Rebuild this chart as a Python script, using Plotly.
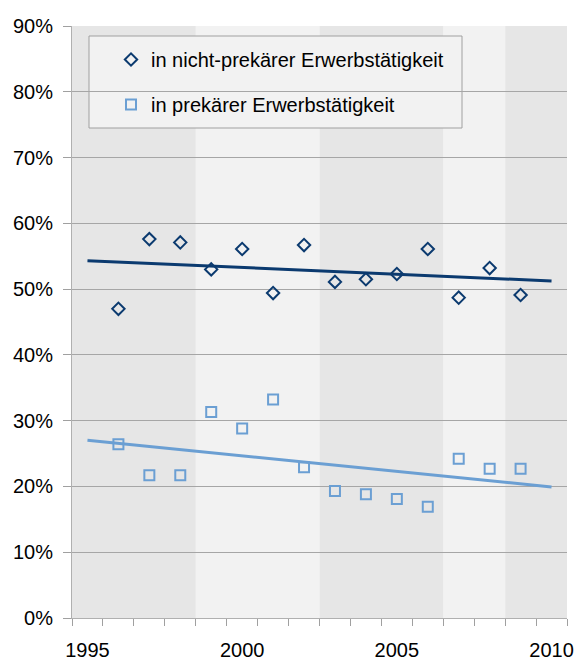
import numpy as np
import plotly.graph_objects as go

years = [1996, 1997, 1998, 1999, 2000, 2001, 2002, 2003, 2004, 2005, 2006, 2007, 2008, 2009]
nicht_prekaer = [47.0, 57.6, 57.1, 53.0, 56.1, 49.4, 56.7, 51.1, 51.5, 52.3, 56.1, 48.7, 53.2, 49.1]
prekaer = [26.4, 21.7, 21.7, 31.3, 28.8, 33.2, 22.9, 19.3, 18.8, 18.1, 16.9, 24.2, 22.7, 22.7]
trend_years = [1995, 2010]
x_ticks = [1995, 2000, 2005, 2010]
y_ticks = [0, 10, 20, 30, 40, 50, 60, 70, 80, 90]
y_ticklabels = [f"{v}%" for v in y_ticks]
dark_periods = [(1995, 1998), (2003, 2006), (2009, 2010)]
light_periods = [(1999, 2002), (2007, 2008)]
names = ["in nicht-prekärer Erwerbstätigkeit", "in prekärer Erwerbstätigkeit"]

DARK = "#0b3a6f"
LIGHT = "#6b9fd3"
FONT = "Liberation Sans, Arial, sans-serif"

fig = go.Figure()

def trend(xs, ys):
    k, d = np.polyfit(xs, ys, 1)
    return [k * t + d for t in trend_years]

fig.add_trace(go.Scatter(x=trend_years, y=trend(years, nicht_prekaer), mode="lines",
                         line=dict(color=DARK, width=3), showlegend=False, hoverinfo="skip"))
fig.add_trace(go.Scatter(x=trend_years, y=trend(years, prekaer), mode="lines",
                         line=dict(color=LIGHT, width=3), showlegend=False, hoverinfo="skip"))
fig.add_trace(go.Scatter(x=years, y=nicht_prekaer, mode="markers", name=names[0],
                         legendgroup="a",
                         marker=dict(symbol="diamond-open", size=9.5, color=DARK,
                                     line=dict(color=DARK, width=2))))
fig.add_trace(go.Scatter(x=years, y=prekaer, mode="markers", name=names[1],
                         legendgroup="b",
                         marker=dict(symbol="square-open", size=10, color=LIGHT,
                                     line=dict(color=LIGHT, width=2))))

shapes = []
for periods, col in ((dark_periods, "#e6e6e6"), (light_periods, "#f2f2f2")):
    for a, b in periods:
        shapes.append(dict(type="rect", xref="x", yref="paper", x0=a - 0.5, x1=b + 0.5,
                           y0=0, y1=1, fillcolor=col, line=dict(width=0), layer="below"))
# legend box
PW, PH = 495.0, 592.0
shapes.append(dict(type="rect", xref="paper", yref="paper",
                   x0=(89 - 72) / PW, x1=(462 - 72) / PW,
                   y0=(618 - 128) / PH, y1=(618 - 36) / PH,
                   fillcolor="#f2f2f2", line=dict(color="#a0a0a0", width=1), layer="between"))

fig.update_layout(
    width=574, height=663,
    margin=dict(l=72, r=7, t=26, b=45, autoexpand=False),
    paper_bgcolor="white", plot_bgcolor="#f2f2f2",
    font=dict(family=FONT, size=20, color="#000000"),
    shapes=shapes,
    legend=dict(x=(111 - 72) / PW, y=(618 - 40) / PH, xanchor="left", yanchor="top",
                bgcolor="rgba(0,0,0,0)", borderwidth=0,
                font=dict(size=20), tracegroupgap=16, traceorder="grouped"),
    xaxis=dict(range=[1994.5, 2010.5], tickmode="array", tickvals=x_ticks,
               ticks="", showgrid=False, zeroline=False, automargin=False,
               showline=True, linecolor="#b0b0b0", linewidth=1,
               ticklabelstandoff=14,
               minor=dict(ticks="outside", tick0=1994.5, dtick=1, ticklen=7,
                          tickcolor="#a0a0a0", showgrid=False)),
    yaxis=dict(range=[0, 90], tickmode="array", tickvals=y_ticks, ticktext=y_ticklabels,
               showgrid=True, gridcolor="#a6a6a6", gridwidth=1, zeroline=False,
               automargin=False,
               showline=True, linecolor="#b0b0b0", linewidth=1,
               ticks="outside", ticklen=8, tickcolor="#a0a0a0",
               ticklabelstandoff=6),
)

# remove the default 8px page margin so the figure fills the window exactly
fig.write_html("out.html", config={"displayModeBar": False},
               post_script="document.body.style.margin='0';document.body.style.overflow='hidden';")
